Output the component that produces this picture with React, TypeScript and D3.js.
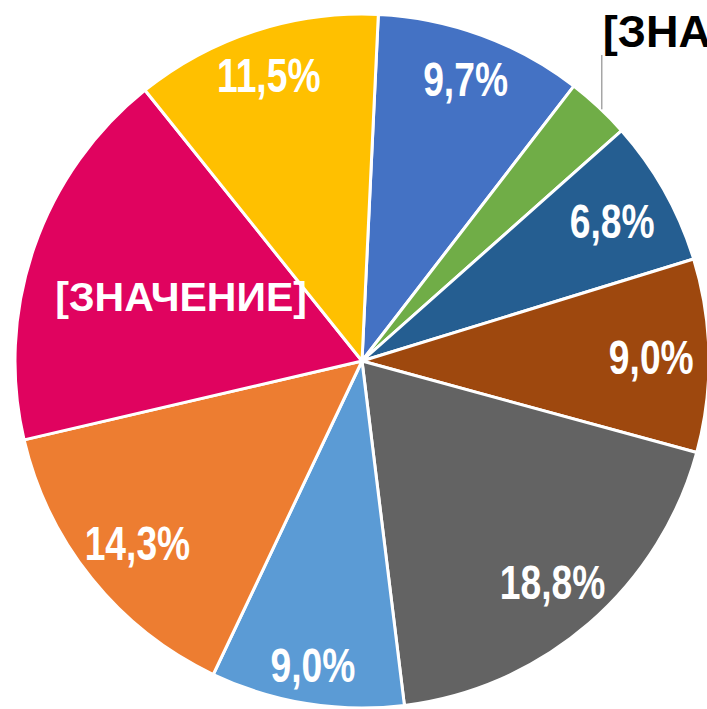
import React from "react";
import { pie, arc, PieArcDatum } from "d3";

// slices clockwise, starting just right of 12 o'clock
const shares = [9.7, 3.0, 6.8, 9.0, 18.8, 9.0, 14.3, 17.9, 11.5];
const labels = ["9,7%", "[ЗНАЧЕНИЕ]", "6,8%", "9,0%", "18,8%", "9,0%", "14,3%", "[ЗНАЧЕНИЕ]", "11,5%"];
const colors = ["#4472C4", "#70AD47", "#255E91", "#9E480E", "#636363", "#5B9BD5", "#ED7D31", "#E0035F", "#FFC000"];

const W = 707;
const H = 709;
const cx = 362;
const cy = 361;
const R = 347;
const start = (2.7 * Math.PI) / 180;

// "inside end" placement: push label out until its far corner touches the rim
const insideEnd = (a: number, w: number, h: number, limit: number) => {
  const s = Math.sin(a), c = Math.cos(a);
  let lo = 0, hi = limit;
  for (let i = 0; i < 40; i++) {
    const r = (lo + hi) / 2;
    const px = r * s + Math.sign(s) * w / 2;
    const py = -r * c - Math.sign(c) * h / 2;
    if (Math.hypot(px, py) > limit) hi = r; else lo = r;
  }
  return lo;
};

const App = () => {
  const slices = pie<number>().sort(null).value(d => d)
    .startAngle(start).endAngle(start + 2 * Math.PI)(shares);
  const slicePath = arc<PieArcDatum<number>>().innerRadius(0).outerRadius(R);

  return (
    <svg width={W} height={H} style={{ position: "absolute", left: 0, top: 0, background: "#fff" }}>
      <g transform={`translate(${cx},${cy})`}>
        {slices.map((d, i) => (
          <path key={i} d={slicePath(d) || ""} fill={colors[i]} stroke="#fff" strokeWidth={3} strokeLinejoin="round" />
        ))}
        {slices.map((d, i) => {
          const mid = (d.startAngle + d.endAngle) / 2;
          if (i === 1) {
            // small green slice: label outside with a leader line
            const ex = R * Math.sin(mid);
            const ey = -R * Math.cos(mid);
            return (
              <g key={"l" + i}>
                <line x1={ex + 3} y1={ey + 2} x2={ex + 3} y2={55 - cy} stroke="#A6A6A6" strokeWidth={1.5} />
                <text x={ex + 4} y={47 - cy} fontFamily="Liberation Sans, Arial, sans-serif" fontWeight="bold"
                  fontSize={45} fill="#000">{labels[i]}</text>
              </g>
            );
          }
          if (i === 7) {
            const r = R * 0.57;
            return (
              <text key={"l" + i} x={r * Math.sin(mid) + 6} y={-r * Math.cos(mid) + 15} textAnchor="middle"
                fontFamily="Liberation Sans, Arial, sans-serif" fontWeight="bold" fontSize={41} fill="#fff">
                {labels[i]}
              </text>
            );
          }
          const r = insideEnd(mid, 88, 35, 334);
          const x = r * Math.sin(mid);
          const y = -r * Math.cos(mid);
          return (
            <text key={"l" + i} transform={`translate(${x},${y + 17.5}) scale(0.76,1)`} textAnchor="middle"
              fontFamily="Liberation Sans Narrow, Arial Narrow, sans-serif" fontWeight="bold" fontSize={49} fill="#fff">
              {labels[i]}
            </text>
          );
        })}
      </g>
    </svg>
  );
};

export default App;
